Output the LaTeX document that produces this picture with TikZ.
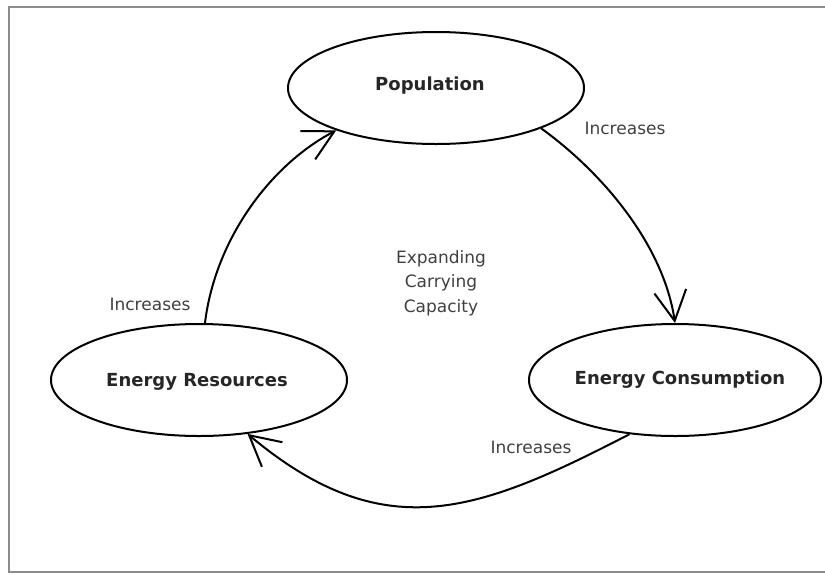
\documentclass[tikz,border=0pt]{standalone}
\usepackage{fontspec}
\setmainfont{DejaVu Sans}
\usetikzlibrary{arrows.meta,shapes.geometric}
\begin{document}
\begin{tikzpicture}[x=1pt,y=-1pt,
  bubble/.style={ellipse, draw=black, line width=2pt, minimum width=296pt, minimum height=112pt, inner sep=0pt, font=\fontsize{18}{20}\selectfont\bfseries, text=black!85},
  lbl/.style={font=\fontsize{17}{24.5}\selectfont, text=black!75, inner sep=0pt},
  arr/.style={line width=2pt, -{Straight Barb[length=30pt,width=32pt]}},
  frame/.style={draw=black!45, line width=2pt}
]
\useasboundingbox (0,0) rectangle (825,574);
\draw[frame] (825,7) -- (9,7) -- (9,572) -- (825,572);

\node[bubble] (pop) at (436,88) {};
\node[bubble] (res) at (199,380) {};
\node[bubble, minimum width=292pt] (con) at (675,380) {};

\node[font=\fontsize{18}{20}\selectfont\bfseries, text=black!85, inner sep=0pt] (popt) at (430,86) {Population};
\node[font=\fontsize{18}{20}\selectfont\bfseries, text=black!85, inner sep=0pt] (rest) at (197,382) {Energy Resources};
\node[font=\fontsize{18}{20}\selectfont\bfseries, text=black!85, inner sep=0pt] (cont) at (680,380) {Energy Consumption};

\node[lbl] (inc1) at (625,128) {Increases};
\node[lbl] (inc2) at (150,304) {Increases};
\node[lbl] (inc3) at (531,447) {Increases};
\node[lbl, align=center] (ecc) at (441,283) {Expanding\\Carrying\\Capacity};

\draw[arr] (pop.-21) .. controls (599,170) and (663,242) .. (con.north);
\draw[arr] (con.230) .. controls (477,513) and (384,548) .. (res.-48);
\draw[arr] (res.84) .. controls (215,240) and (270,165) .. (pop.203);
\end{tikzpicture}
\end{document}
